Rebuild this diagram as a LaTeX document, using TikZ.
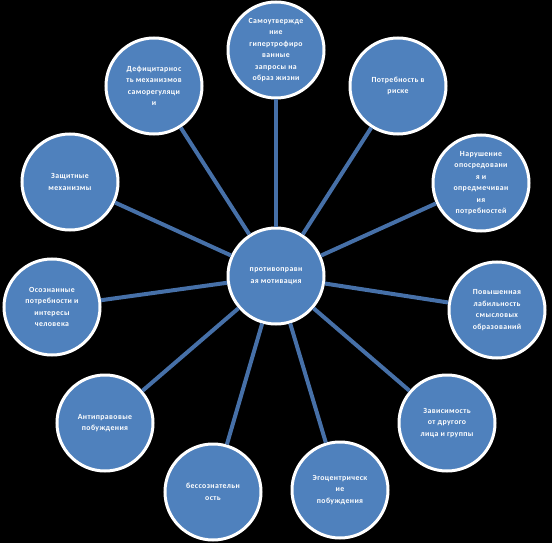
\documentclass[tikz,border=0pt]{standalone}
\usepackage{fontspec}
\setmainfont{Carlito}
\newfontfamily\lblfont[LetterSpace=5]{Carlito}
\usepackage{tikz}

\definecolor{circblue}{RGB}{79,129,189}
\definecolor{edgeblue}{RGB}{70,112,168}

\begin{document}
\begin{tikzpicture}[
					x=1pt,y=-1pt,
					cnode/.style={circle,draw=white,fill=circblue,line width=3pt,minimum size=96pt,inner sep=0pt,
						align=center,text=white,font=\lblfont\bfseries\fontsize{7.8}{11.5}\selectfont},
					medge/.style={draw=edgeblue,line width=4pt}
					]
					\fill[black] (0,0) rectangle (552,543);
					\useasboundingbox (0,0) rectangle (552,543);
					\node[cnode] (mot) at (276,276) {противоправн\\ая мотивация};
					\foreach \i/\x/\y/\lab in {
						1/276/50/{Самоутвержде\\ние\\гипертрофиро\\ванные\\запросы на\\образ жизни},
						2/398/86/{Потребность в\\риске},
						3/481/183/{Нарушение\\опосредовани\\я и\\опредмечиван\\ия\\потребностей},
						4/497/310/{Повышенная\\лабильность\\смысловых\\образований},
						5/447/423/{Зависимость\\от другого\\лица и группы},
						6/340/490/{Эгоцентрическ\\ие\\побуждения},
						7/213/492/{бессознательн\\ость},
						8/105/423/{Антиправовые\\побуждения},
						9/52/307/{Осознанные\\потребности и\\интересы\\человека},
						10/70/182/{Защитные\\механизмы},
						11/154/86/{Дефицитарнос\\ть механизмов\\саморегуляци\\и}}{
						\node[cnode] (f\i) at (\x,\y) {\lab};
						\draw[medge] (mot) -- (f\i);
					}
				\end{tikzpicture}
\end{document}
